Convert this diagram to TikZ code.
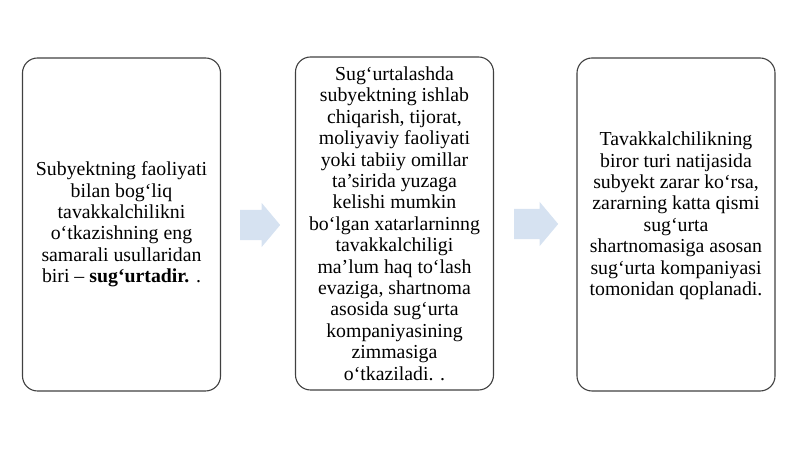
\documentclass[tikz,border=0pt]{standalone}
\usepackage{fontspec}
\setmainfont{Liberation Serif}
\usetikzlibrary{shapes.arrows}
\definecolor{boxline}{RGB}{64,64,64}
\definecolor{arrowblue}{RGB}{214,226,241}

\begin{document}
\begin{tikzpicture}[x=1pt,y=1pt,
  textbox/.style={draw=boxline, line width=1.1pt, rounded corners=15pt,
    minimum width=198pt, minimum height=333pt, inner sep=0pt,
    align=center, font=\fontsize{19.8}{21.4}\selectfont},
  flowarrow/.style={single arrow, fill=arrowblue, draw=none, anchor=tail,
    inner xsep=0pt, inner ysep=15pt, single arrow head extend=7pt,
    single arrow tip angle=100}
]

\useasboundingbox (0,0) rectangle (800,449);

% The three boxes
\node[textbox] (method) at (121.5,224.5) {Subyektning faoliyati\\ bilan bog‘liq\\ tavakkalchilikni\\ o‘tkazishning eng\\ samarali usullaridan\\ biri – \textbf{sug‘urtadir.} .};

\node[textbox] (transfer) at (394.5,225.5) {Sug‘urtalashda\\ subyektning ishlab\\ chiqarish, tijorat,\\ moliyaviy faoliyati\\ yoki tabiiy omillar\\ ta’sirida yuzaga\\ kelishi mumkin\\ bo‘lgan xatarlarninng\\ tavakkalchiligi\\ ma’lum haq to‘lash\\ evaziga, shartnoma\\ asosida sug‘urta\\ kompaniyasining\\ zimmasiga\\ o‘tkaziladi. .};

\node[textbox] (cover) at (676,224.5) {Tavakkalchilikning\\ biror turi natijasida\\ subyekt zarar ko‘rsa,\\ zararning katta qismi\\ sug‘urta\\ shartnomasiga asosan\\ sug‘urta kompaniyasi\\ tomonidan qoplanadi.\\ \mbox{}};

% The arrows between them
\node[flowarrow, minimum height=40pt] (arrA) at (240,224) {};
\node[flowarrow, minimum height=44pt] (arrB) at (514,225) {};

\end{tikzpicture}
\end{document}
